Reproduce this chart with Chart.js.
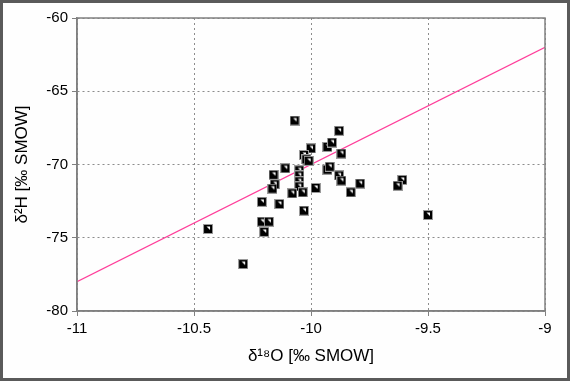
<!DOCTYPE html>
<html>
<head>
<meta charset="utf-8">
<script src="https://cdn.jsdelivr.net/npm/chart.js@4"></script>
<style>
html,body{margin:0;padding:0;background:#fff;}
#wrap{position:relative;width:570px;height:381px;}
canvas{display:block;}
</style>
</head>
<body>
<div id="wrap"><canvas id="c" width="570" height="381"></canvas></div>
<script>
// Sample values (δ18O, δ2H)
const d18O = [-10.07, -9.88, -10.00, -9.93, -9.91, -9.87, -10.03, -10.02, -10.01, -9.93,
              -9.92, -9.88, -9.87, -9.79, -9.83, -9.61, -9.63, -9.50, -10.11, -10.16,
              -10.05, -10.05, -10.05, -10.155, -10.165, -10.05, -10.035, -10.08, -9.98, -10.21,
              -10.135, -10.03, -10.21, -10.18, -10.20, -10.44, -10.29];
const d2H  = [-67.0, -67.7, -68.9, -68.8, -68.5, -69.25, -69.35, -69.65, -69.75, -70.35,
              -70.15, -70.75, -71.1, -71.3, -71.9, -71.05, -71.45, -73.45, -70.26, -70.7,
              -70.4, -70.75, -71.15, -71.35, -71.65, -71.5, -71.9, -71.97, -71.6, -72.55,
              -72.7, -73.15, -73.9, -73.9, -74.6, -74.4, -76.8];
// Reference line endpoints (meteoric water line)
const lineX = [-11, -9];
const lineY = [-78, -62];
// Axis ticks
const xTicks = [-11, -10.5, -10, -9.5, -9];
const yTicks = [-80, -75, -70, -65, -60];

// marker image
const mk = document.createElement('canvas');
mk.width = 10; mk.height = 10;
(function(){
  const g = mk.getContext('2d');
  g.fillStyle = '#9a9a9a'; g.fillRect(0,0,10,10);
  g.fillStyle = '#000'; g.fillRect(1,1,8,8);
  g.fillStyle = '#fff';
  g.beginPath(); g.moveTo(3.5,2.5); g.lineTo(7,2.5); g.lineTo(7,6); g.closePath(); g.fill();
})();

const scatterData = d18O.map((x,i)=>({x:x, y:d2H[i]}));
const lineData = lineX.map((x,i)=>({x:x, y:lineY[i]}));

const frame = {
  id:'frame',
  beforeDraw(chart){
    const c = chart.ctx;
    c.save();
    c.fillStyle = '#fefefe';
    c.fillRect(0,0,chart.width,chart.height);
    c.restore();
  },
  afterDraw(chart){
    const c = chart.ctx, a = chart.chartArea;
    c.save();
    c.setLineDash([]);
    c.strokeStyle = '#808080'; c.lineWidth = 1.5;
    c.strokeRect(a.left, a.top, a.right-a.left, a.bottom-a.top);
    c.strokeStyle = '#5a5a5a'; c.lineWidth = 3;
    c.strokeRect(1.5,1.5,chart.width-3,chart.height-3);
    c.restore();
  }
};

const gridCommon = {
  color: '#8c8c8c',
  lineWidth: 1,
  tickBorderDash: [],
  tickColor: '#808080',
  tickLength: 5,
  drawTicks: true
};
const borderCommon = { display: true, color: '#808080', width: 1.5, dash: [2,3] };

new Chart(document.getElementById('c'), {
  data: {
    datasets: [
      {
        type: 'line',
        data: lineData,
        borderColor: '#ff3d9a',
        borderWidth: 1.2,
        pointRadius: 0,
        fill: false,
        order: 2
      },
      {
        type: 'scatter',
        data: scatterData,
        pointStyle: mk,
        pointRadius: 5,
        order: 1
      }
    ]
  },
  options: {
    responsive: false,
    animation: false,
    events: [],
    layout: { padding: { left: 0, top: 18, right: 25, bottom: 0 } },
    plugins: { legend: { display: false }, tooltip: { enabled: false } },
    scales: {
      x: {
        type: 'linear',
        min: -11, max: -9,
        afterBuildTicks: s => { s.ticks = xTicks.map(v=>({value:v})); },
        afterFit: s => { s.height = 70; },
        grid: gridCommon,
        border: borderCommon,
        ticks: { color: '#000', font: { family: 'Liberation Sans', size: 15 }, padding: 4, maxRotation: 0,
                 callback: v => String(v) },
        title: { display: true, text: 'δ¹⁸O [‰ SMOW]', color: '#000',
                 font: { family: 'Liberation Sans', size: 17 }, padding: { top: 4, bottom: 14 } }
      },
      y: {
        type: 'linear',
        min: -80, max: -60,
        afterBuildTicks: s => { s.ticks = yTicks.map(v=>({value:v})); },
        afterFit: s => { s.width = 77; },
        grid: gridCommon,
        border: borderCommon,
        ticks: { color: '#000', font: { family: 'Liberation Sans', size: 15 }, padding: 4,
                 callback: v => String(v) },
        title: { display: true, text: 'δ²H [‰ SMOW]', color: '#000',
                 font: { family: 'Liberation Sans', size: 17 }, padding: { top: 12, bottom: 4 } }
      }
    }
  },
  plugins: [frame]
});
</script>
</body>
</html>
